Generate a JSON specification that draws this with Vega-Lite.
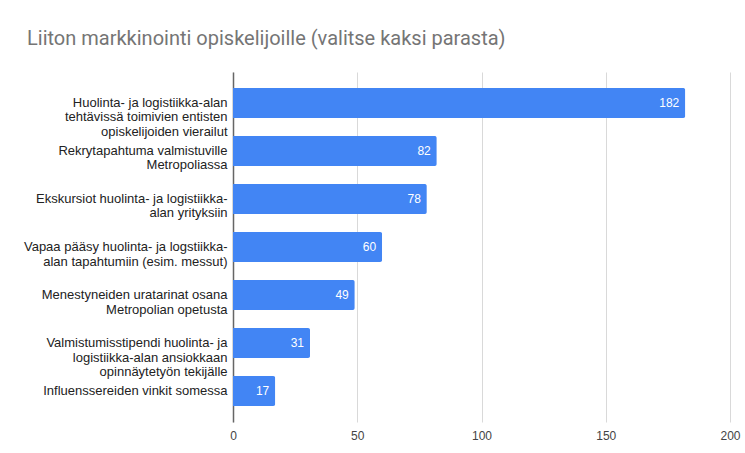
{
  "$schema": "https://vega.github.io/schema/vega-lite/v6.json",
  "autosize": {"type": "none"},
  "width": 497,
  "height": 350,
  "padding": {"left": 233, "top": 72, "right": 15, "bottom": 31},
  "background": "white",
  "title": {
    "text": "Liiton markkinointi opiskelijoille (valitse kaksi parasta)",
    "anchor": "start",
    "frame": "group",
    "dx": -206,
    "offset": 7,
    "baseline": "alphabetic",
    "font": "Roboto",
    "fontSize": 20,
    "fontWeight": "normal",
    "color": "#757575"
  },
  "data": {
    "values": [
      {"label": "Huolinta- ja logistiikka-alan|tehtävissä toimivien entisten|opiskelijoiden vierailut", "value": 182},
      {"label": "Rekrytapahtuma valmistuville|Metropoliassa", "value": 82},
      {"label": "Ekskursiot huolinta- ja logistiikka-|alan yrityksiin", "value": 78},
      {"label": "Vapaa pääsy huolinta- ja logstiikka-|alan tapahtumiin (esim. messut)", "value": 60},
      {"label": "Menestyneiden uratarinat osana|Metropolian opetusta", "value": 49},
      {"label": "Valmistumisstipendi huolinta- ja|logistiikka-alan ansiokkaan|opinnäytetyön tekijälle", "value": 31},
      {"label": "Influenssereiden vinkit somessa", "value": 17}
    ]
  },
  "encoding": {
    "y": {
      "field": "label",
      "type": "nominal",
      "sort": null,
      "scale": {"paddingInner": 0.375, "paddingOuter": 0.333},
      "axis": {
        "title": null,
        "labelExpr": "split(datum.label, '|')",
        "labelLimit": 300,
        "labelFont": "Liberation Sans",
        "labelFontSize": 13,
        "labelColor": "#222222",
        "labelLineHeight": 14.5,
        "labelPadding": 6,
        "ticks": false,
        "domain": true,
        "domainColor": "#666666",
        "domainWidth": 1.5,
        "grid": false
      }
    },
    "x": {
      "field": "value",
      "type": "quantitative",
      "scale": {"domain": [0, 200]},
      "axis": {
        "title": null,
        "values": [0, 50, 100, 150, 200],
        "labelFont": "Liberation Sans",
        "labelFontSize": 12,
        "labelColor": "#444444",
        "labelPadding": 8,
        "ticks": false,
        "domain": false,
        "grid": true,
        "gridColor": "#d9d9d9",
        "labelFlush": false
      }
    }
  },
  "layer": [
    {
      "mark": {"type": "bar", "color": "#4285F4", "cornerRadiusEnd": 2}
    },
    {
      "mark": {"type": "text", "align": "right", "baseline": "middle", "dx": -6, "color": "white", "font": "Liberation Sans", "fontSize": 12},
      "encoding": {"text": {"field": "value", "type": "quantitative"}}
    }
  ],
  "config": {"view": {"stroke": null}}
}
